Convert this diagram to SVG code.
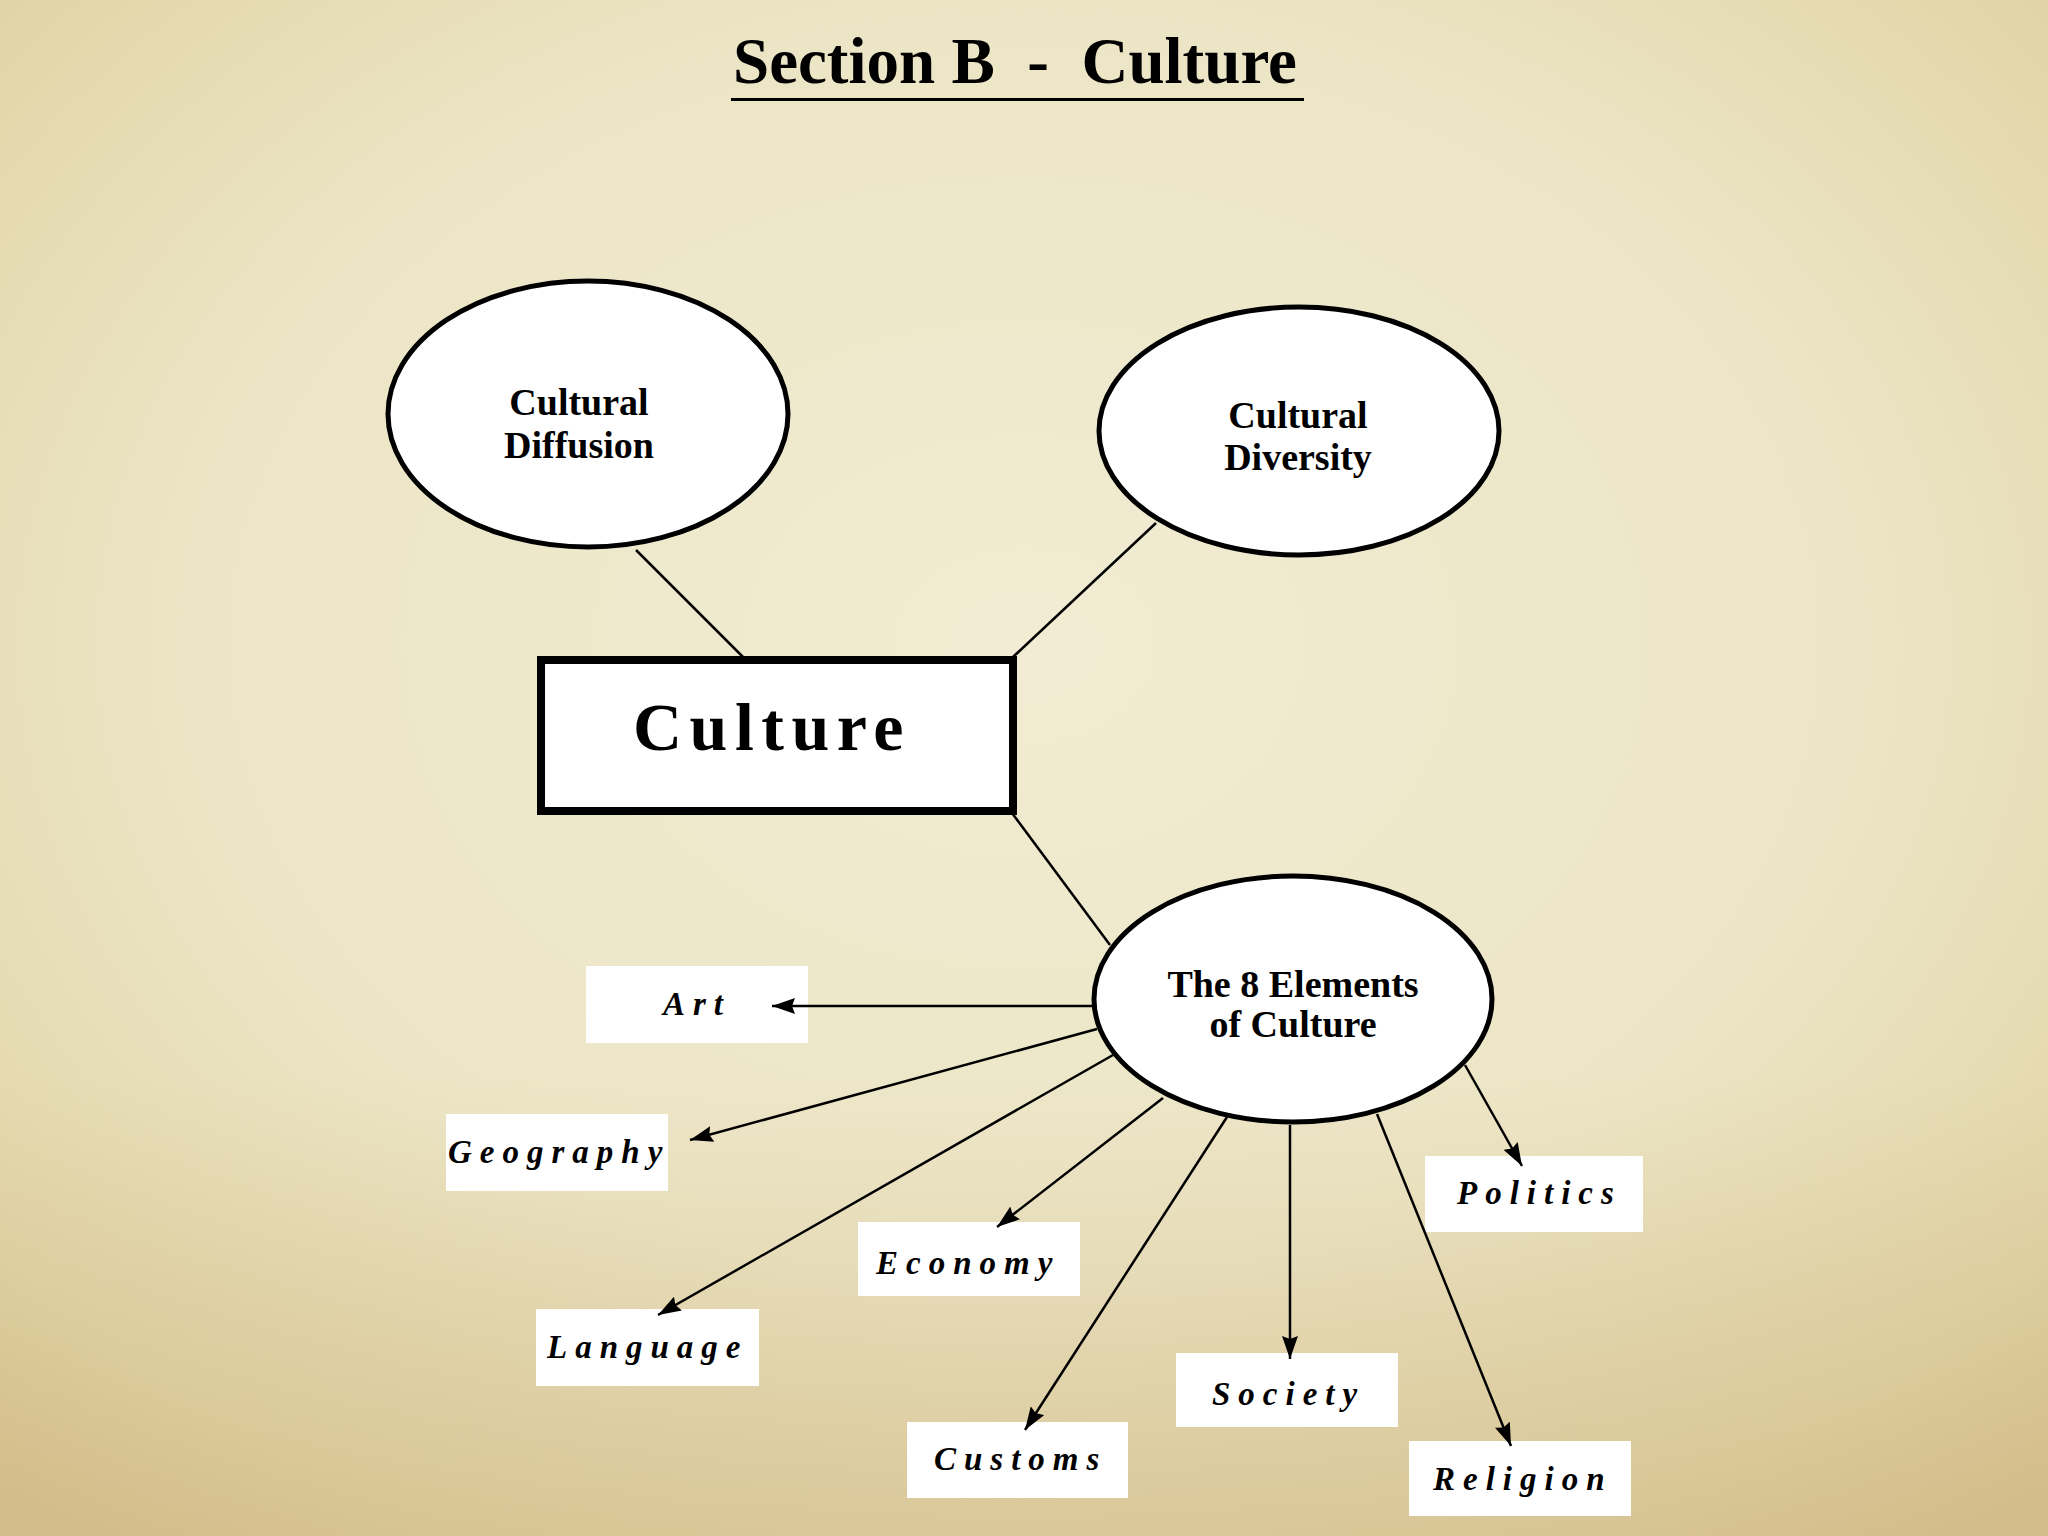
<svg xmlns="http://www.w3.org/2000/svg" width="2048" height="1536" viewBox="0 0 2048 1536">
<defs>
<radialGradient id="bg" cx="0.5" cy="0.42" r="0.75">
<stop offset="0" stop-color="#f1ecd3"/>
<stop offset="0.55" stop-color="#ece5c5"/>
<stop offset="0.85" stop-color="#e2d5a8"/>
<stop offset="1" stop-color="#d8c693"/>
</radialGradient>
<linearGradient id="bot" x1="0" y1="0" x2="0" y2="1">
<stop offset="0.7" stop-color="#c9ad78" stop-opacity="0"/>
<stop offset="1" stop-color="#c9ad78" stop-opacity="0.4"/>
</linearGradient>
<marker id="arr" markerUnits="userSpaceOnUse" markerWidth="24" markerHeight="16" refX="23" refY="8" orient="auto">
<path d="M0,0 L23,8 L0,16 L3,8 z" fill="#000"/>
</marker>
<style>
.t{font-family:"Liberation Serif","Times New Roman",serif;font-weight:bold;fill:#000}
.oval{fill:#fff;stroke:#000;stroke-width:5}
.lab{font-family:"Liberation Serif","Times New Roman",serif;font-weight:bold;font-style:italic;font-size:33px;letter-spacing:8px;fill:#000}
.box{fill:#fff}
.ln{stroke:#000;stroke-width:2.5;fill:none}
.ar{stroke:#000;stroke-width:2.5;fill:none;marker-end:url(#arr)}
</style>
</defs>
<rect width="2048" height="1536" fill="url(#bg)"/>
<rect width="2048" height="1536" fill="url(#bot)"/>

<g id="title">
<text class="t" x="733" y="83" font-size="65" style="white-space:pre">Section B  -  Culture</text>
<rect x="731" y="98" width="573" height="3" fill="#000"/>
</g>

<g id="art"><rect class="box" x="586" y="966" width="222" height="77"/><text class="lab" x="663" y="1015">Art</text></g>
<g id="geography"><rect class="box" x="446" y="1114" width="222" height="77"/><text class="lab" x="448" y="1163">Geography</text></g>
<g id="language"><rect class="box" x="536" y="1309" width="223" height="77"/><text class="lab" x="547" y="1358">Language</text></g>
<g id="economy"><rect class="box" x="858" y="1222" width="222" height="74"/><text class="lab" x="876" y="1274">Economy</text></g>
<g id="customs"><rect class="box" x="907" y="1422" width="221" height="76"/><text class="lab" x="934" y="1470">Customs</text></g>
<g id="society"><rect class="box" x="1176" y="1353" width="222" height="74"/><text class="lab" x="1212" y="1405">Society</text></g>
<g id="politics"><rect class="box" x="1425" y="1156" width="218" height="76"/><text class="lab" x="1457" y="1204">Politics</text></g>
<g id="religion"><rect class="box" x="1409" y="1441" width="222" height="75"/><text class="lab" x="1433" y="1490">Religion</text></g>

<g id="connectors">
<line class="ln" x1="636" y1="550" x2="743" y2="657"/>
<line class="ln" x1="1156" y1="523" x2="1013" y2="657"/>
<line class="ln" x1="1012" y1="813" x2="1110" y2="945"/>
<line class="ar" x1="1092" y1="1006" x2="772" y2="1006"/>
<line class="ar" x1="1097" y1="1029" x2="690" y2="1140"/>
<line class="ar" x1="1113" y1="1055" x2="658" y2="1315"/>
<line class="ar" x1="1163" y1="1098" x2="997" y2="1227"/>
<line class="ar" x1="1227" y1="1117" x2="1025" y2="1430"/>
<line class="ar" x1="1290" y1="1125" x2="1290" y2="1359"/>
<line class="ar" x1="1377" y1="1114" x2="1511" y2="1446"/>
<line class="ar" x1="1465" y1="1065" x2="1522" y2="1166"/>
</g>

<g id="diffusion">
<ellipse class="oval" cx="588" cy="414" rx="200" ry="133"/>
<text class="t" font-size="38" text-anchor="middle" x="579" y="415">Cultural</text>
<text class="t" font-size="38" text-anchor="middle" x="579" y="458">Diffusion</text>
</g>

<g id="diversity">
<ellipse class="oval" cx="1299" cy="431" rx="200" ry="124"/>
<text class="t" font-size="38" text-anchor="middle" x="1298" y="428">Cultural</text>
<text class="t" font-size="38" text-anchor="middle" x="1298" y="470">Diversity</text>
</g>

<g id="culture">
<rect x="541" y="660" width="472" height="151" fill="#fff" stroke="#000" stroke-width="8"/>
<text class="t" font-size="68" x="633" y="750" letter-spacing="7.5">Culture</text>
</g>

<g id="elements">
<ellipse class="oval" cx="1293" cy="999" rx="199" ry="123"/>
<text class="t" font-size="38" text-anchor="middle" x="1293" y="997">The 8 Elements</text>
<text class="t" font-size="38" text-anchor="middle" x="1293" y="1037">of Culture</text>
</g>
</svg>
